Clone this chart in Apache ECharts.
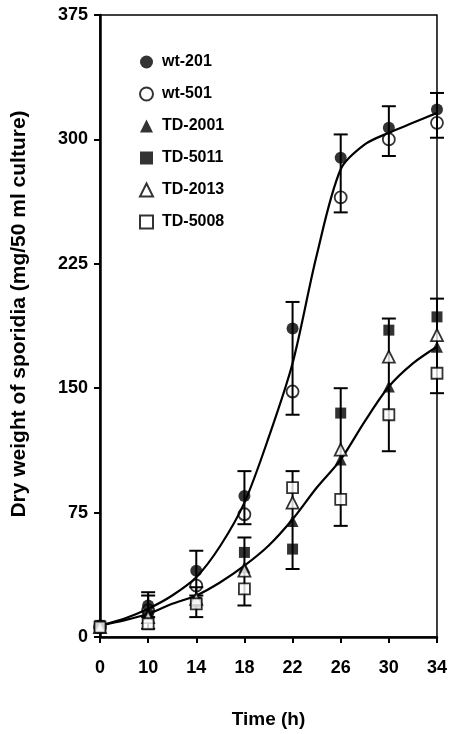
<!DOCTYPE html>
<html>

<head>
  <meta charset="utf-8">
  <title>Dry weight of sporidia</title>
  <script src="https://cdn.jsdelivr.net/npm/echarts@6/dist/echarts.min.js"></script>
  <style>
    html, body {
      margin: 0;
      padding: 0;
      background: #fff;
    }

    #main {
      width: 450px;
      height: 734px;
    }
  </style>
</head>

<body>
  <div id="main"></div>
  <script>
    // time points (h); drawn equally spaced, so x is the slot index
    var times = ['0', '10', '14', '18', '22', '26', '30', '34'];

    // dry weight, mg / 50 ml culture
    var wt201 = [7, 19, 40, 85, 186, 289, 307, 318];
    var wt501 = [6, 16, 31, 74, 148, 265, 300, 310];
    var td2001 = [6, 14, 24, 42, 70, 107, 151, 175];
    var td5011 = [7, 13, 21, 51, 53, 135, 185, 193];
    var td2013 = [6, 12, 23, 40, 81, 113, 169, 182];
    var td5008 = [6, 8, 20, 29, 90, 83, 134, 159];

    // fitted curves, read every half slot
    var curvePos = [0, 0.5, 1, 1.5, 2, 2.5, 3, 3.5, 4, 4.5, 5, 5.5, 6, 6.5, 7];
    var wtCurve = [7, 11, 17, 25, 36, 55, 81, 120, 165, 230, 282, 297, 304, 310, 316];
    var tdCurve = [7, 10, 14, 20, 25, 33, 43, 55, 71, 90, 107, 130, 151, 165, 175];

    // error bar extents per group
    var wtLow = [null, 12, 25, 68, 134, 256, 290, 301];
    var wtHigh = [null, 27, 52, 100, 202, 303, 320, 328];
    var tdLow = [null, 5, 12, 19, 41, 67, 112, 147];
    var tdHigh = [null, 25, 30, 60, 100, 150, 192, 204];

    var font = 'Liberation Sans, Arial, sans-serif';
    var chart = echarts.init(document.getElementById('main'));

    function pairs(xs, ys) {
      return ys.map(function (v, i) { return [xs ? xs[i] : i, v]; });
    }

    function errData(low, high) {
      var out = [];
      for (var i = 0; i < times.length; i++) {
        if (low[i] == null) continue;
        out.push([i, low[i], high[i]]);
      }
      return out;
    }

    function renderErr(params, api) {
      var lo = api.coord([api.value(0), api.value(1)]);
      var hi = api.coord([api.value(0), api.value(2)]);
      var w = 7;
      var st = { stroke: '#000', lineWidth: 2 };
      return {
        type: 'group',
        children: [
          { type: 'line', shape: { x1: lo[0], y1: lo[1], x2: hi[0], y2: hi[1] }, style: st },
          { type: 'line', shape: { x1: lo[0] - w, y1: lo[1], x2: lo[0] + w, y2: lo[1] }, style: st },
          { type: 'line', shape: { x1: hi[0] - w, y1: hi[1], x2: hi[0] + w, y2: hi[1] }, style: st }
        ]
      };
    }

    function pts(name, data, symbol, size, filled) {
      return {
        name: name,
        type: 'scatter',
        data: pairs(null, data),
        symbol: symbol,
        symbolSize: size,
        z: 5,
        itemStyle: {
          color: filled ? '#000' : (symbol == 'circle' ? 'rgba(255,255,255,0)' : '#fff'),
          borderColor: '#000',
          borderWidth: filled ? 0 : 1.8
        }
      };
    }

    function fit(name, data) {
      return {
        name: name,
        type: 'line',
        data: pairs(curvePos, data),
        smooth: 0.3,
        showSymbol: false,
        lineStyle: { color: '#000', width: 2.2 },
        z: 3
      };
    }

    var option = {
      animation: false,
      backgroundColor: '#fff',
      grid: {
        left: 100,
        right: 10,
        top: 15,
        bottom: 95,
        show: true,
        borderColor: '#000',
        borderWidth: 1.5
      },
      legend: {
        orient: 'vertical',
        left: 134,
        top: 49,
        itemWidth: 13,
        itemHeight: 13,
        itemGap: 16,
        data: ['wt-201', 'wt-501', 'TD-2001', 'TD-5011', 'TD-2013', 'TD-5008'],
        textStyle: {
          fontFamily: font,
          fontWeight: 'bold',
          fontSize: 16,
          lineHeight: 16,
          padding: [0, 0, 0, 4],
          color: '#000'
        }
      },
      xAxis: {
        type: 'value',
        min: 0,
        max: 7,
        interval: 1,
        name: 'Time (h)',
        nameLocation: 'middle',
        nameGap: 73,
        nameTextStyle: {
          fontFamily: font,
          fontWeight: 'bold',
          fontSize: 19,
          color: '#000'
        },
        axisLine: { lineStyle: { color: '#000', width: 2.5 } },
        axisTick: { length: 6, lineStyle: { color: '#000', width: 2 } },
        axisLabel: {
          margin: 22,
          fontFamily: font,
          fontWeight: 'bold',
          fontSize: 18,
          color: '#000',
          formatter: function (v) {
            return times[v] || '';
          }
        },
        splitLine: { show: false }
      },
      yAxis: {
        type: 'value',
        min: 0,
        max: 375,
        interval: 75,
        name: 'Dry weight of sporidia (mg/50 ml culture)',
        nameLocation: 'middle',
        nameGap: 70,
        nameTextStyle: {
          fontFamily: font,
          fontWeight: 'bold',
          fontSize: 21,
          color: '#000',
          padding: [0, 0, 0, 24]
        },
        axisLine: { show: true, lineStyle: { color: '#000', width: 2.5 } },
        axisTick: { show: true, length: 6, lineStyle: { color: '#000', width: 2 } },
        axisLabel: {
          margin: 12,
          fontFamily: font,
          fontWeight: 'bold',
          fontSize: 18,
          color: '#000'
        },
        splitLine: { show: false }
      },
      series: [
        {
          name: 'wt-err',
          type: 'custom',
          renderItem: renderErr,
          data: errData(wtLow, wtHigh),
          z: 2
        },
        {
          name: 'td-err',
          type: 'custom',
          renderItem: renderErr,
          data: errData(tdLow, tdHigh),
          z: 2
        },
        fit('wt-fit', wtCurve),
        fit('td-fit', tdCurve),
        pts('wt-201', wt201, 'circle', 12, true),
        pts('wt-501', wt501, 'circle', 12, false),
        pts('TD-2001', td2001, 'triangle', 12, true),
        pts('TD-5011', td5011, 'rect', 11, true),
        pts('TD-2013', td2013, 'triangle', 12, false),
        pts('TD-5008', td5008, 'rect', 11, false)
      ]
    };

    chart.setOption(option);
  </script>
</body>

</html>
